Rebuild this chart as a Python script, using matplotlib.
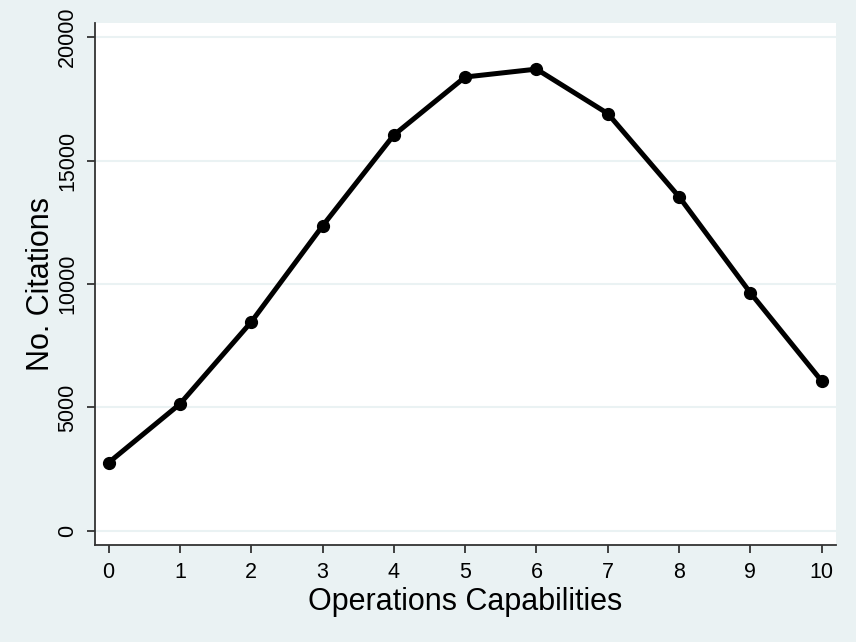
import matplotlib
matplotlib.use('Agg')
import matplotlib.pyplot as plt

# --- Data ---
capabilities = [0, 1, 2, 3, 4, 5, 6, 7, 8, 9, 10]
citations = [2765, 5140, 8460, 12350, 16030, 18380, 18700, 16900, 13530, 9640, 6070]
y_ticks = [0, 5000, 10000, 15000, 20000]

BG = '#EAF2F3'
AXIS = '#333333'

plt.rcParams['font.family'] = ['Liberation Sans', 'DejaVu Sans']

fig = plt.figure(figsize=(8.56, 6.42), dpi=100, facecolor=BG)
ax = fig.add_axes([95 / 856, 1 - 545 / 642, (836 - 95) / 856, (545 - 23) / 642])
ax.set_facecolor('white')

ax.plot(capabilities, citations, color='black', linewidth=3.6,
        marker='o', markersize=8.5, zorder=3)

ax.set_xlim(-0.19, 10.2)
ax.set_ylim(-567, 20567)
ax.set_xticks(capabilities)
ax.set_yticks(y_ticks)
ax.set_yticklabels([str(t) for t in y_ticks], rotation=90, va='center')

ax.grid(True, axis='y', color=BG, linewidth=1.5, zorder=0)
for s in ['top', 'right']:
    ax.spines[s].set_visible(False)
for s in ['left', 'bottom']:
    ax.spines[s].set_color(AXIS)
    ax.spines[s].set_linewidth(1.3)

ax.tick_params(axis='both', colors=AXIS, labelcolor='black', length=6,
               width=1.3, labelsize=15.5, pad=6)

ax.set_xlabel('Operations Capabilities', fontsize=22, labelpad=3)
ax.set_ylabel('No. Citations', fontsize=22, labelpad=1)

fig.savefig('out.png', dpi=100, facecolor=BG)
